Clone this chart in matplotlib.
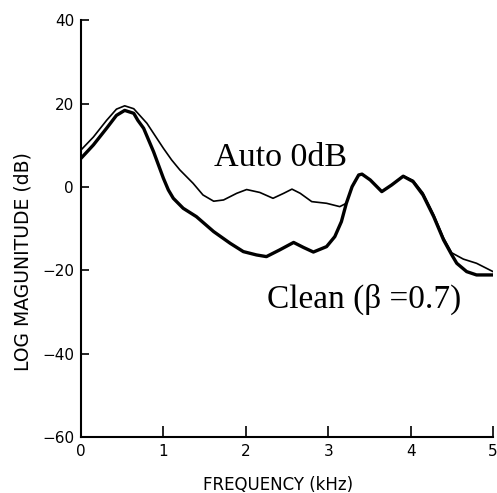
import matplotlib.pyplot as plt

# values
auto_f = [0.0, 0.15, 0.31, 0.43, 0.53, 0.64, 0.80, 0.90, 1.0, 1.1, 1.2, 1.36, 1.48, 1.61, 1.73, 1.89,
          2.01, 2.17, 2.33, 2.46, 2.56, 2.66, 2.80, 2.98, 3.14, 3.22, 3.29, 3.37, 3.41, 3.51, 3.65,
          3.77, 3.91, 4.03, 4.15, 4.28, 4.40, 4.50, 4.64, 4.80, 5.0]
auto_db = [8.9, 12.0, 16.0, 18.7, 19.5, 18.8, 15.3, 12.3, 9.3, 6.5, 4.1, 0.9, -1.9, -3.4, -3.1, -1.5,
           -0.6, -1.3, -2.7, -1.5, -0.5, -1.5, -3.5, -3.9, -4.7, -3.9, 0.0, 2.9, 3.1, 1.7, -1.1,
           0.5, 2.7, 1.6, -1.4, -6.6, -12.2, -15.8, -17.3, -18.3, -20.3]

clean_f = [0.0, 0.15, 0.31, 0.43, 0.53, 0.64, 0.69, 0.76, 0.88, 0.94, 1.0, 1.06, 1.12, 1.24, 1.40,
           1.61, 1.81, 1.97, 2.13, 2.25, 2.41, 2.58, 2.70, 2.82, 2.98, 3.08, 3.16, 3.22, 3.29, 3.37,
           3.41, 3.51, 3.65, 3.77, 3.91, 4.03, 4.15, 4.28, 4.40, 4.50, 4.56, 4.68, 4.80, 5.0]
clean_db = [6.9, 10.1, 14.1, 17.2, 18.4, 17.7, 16.0, 14.1, 8.5, 5.3, 2.1, -0.7, -2.7, -5.1, -7.1,
            -10.7, -13.5, -15.5, -16.3, -16.7, -15.1, -13.3, -14.5, -15.6, -14.3, -11.9, -8.3, -3.9,
            0.1, 2.9, 3.1, 1.7, -1.1, 0.5, 2.6, 1.3, -1.9, -7.1, -12.7, -16.3, -18.3, -20.3, -21.1, -21.1]

fig = plt.figure(figsize=(4.97, 4.93), dpi=100)
ax = fig.add_axes([0.163, 0.1136, 0.829, 0.845])

ax.plot(auto_f, auto_db, color="black", lw=1.2, solid_joinstyle="round")
ax.plot(clean_f, clean_db, color="black", lw=2.4, solid_joinstyle="round")

ax.set_xlim(0, 5)
ax.set_ylim(-60, 40)
ax.set_xticks([0, 1, 2, 3, 4, 5])
ax.set_yticks([-60, -40, -20, 0, 20, 40])
ax.spines["top"].set_visible(False)
ax.spines["right"].set_visible(False)
ax.spines["left"].set_linewidth(1.5)
ax.spines["bottom"].set_linewidth(1.5)
ax.tick_params(axis="y", direction="in", length=6, width=1.2, labelsize=11, pad=5)
ax.tick_params(axis="x", direction="in", length=8, width=1.2, labelsize=11, pad=5)

ax.text(2.415, 5.0, "Auto 0dB", family="Liberation Serif", fontsize=24.5, ha="center", va="baseline")
ax.text(3.43, -29.0, "Clean (\u03b2 =0.7)", family="Liberation Serif", fontsize=24,
        ha="center", va="baseline")

fig.text(0.046, 0.469, "LOG MAGUNITUDE (dB)", rotation=90, ha="center", va="center", fontsize=13.5)
fig.text(0.559, 0.016, "FREQUENCY (kHz)", ha="center", va="center", fontsize=12)

fig.savefig("out.png", dpi=100)
